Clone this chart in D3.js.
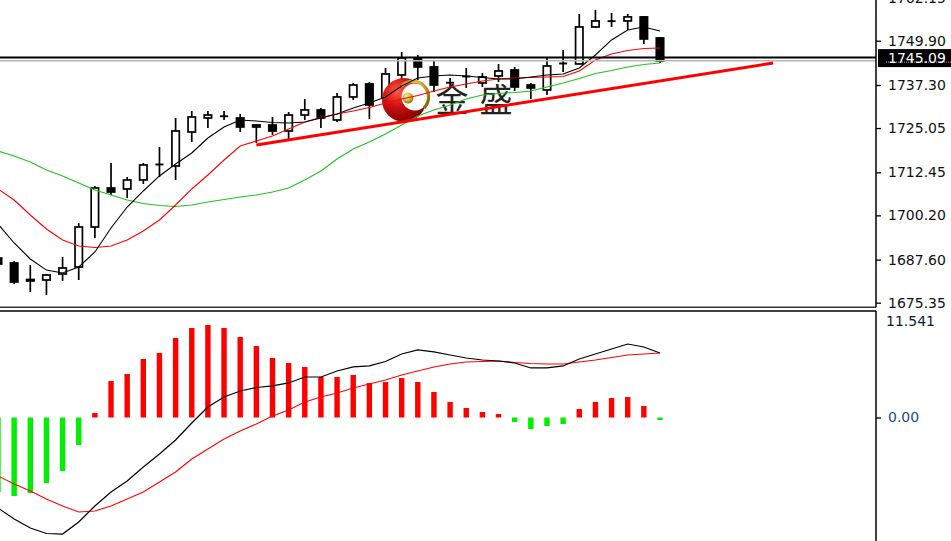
<!DOCTYPE html>
<html><head><meta charset="utf-8">
<script src="https://cdn.jsdelivr.net/npm/d3@7"></script>
<style>html,body{margin:0;padding:0;background:#fff;overflow:hidden}</style>
</head><body>
<svg id="c" width="951" height="541"></svg>
<script>
// ---------- DATA ----------
const opens  = [1688.07,1686.65,1681.95,1681.81,1683.52,1685.50,1696.89,1707.99,1707.71,1710.27,1714.54,1714.25,1723.92,1727.91,1728.34,1727.91,1725.92,1725.92,1724.21,1728.76,1730.19,1727.34,1733.89,1737.59,1733.60,1740.15,1744.99,1742.43,1738.01,1739.58,1737.87,1739.86,1741.57,1737.30,1735.88,1743.56,1743.28,1753.81,1755.52,1755.52,1756.67,1750.68];
const highs  = [1689.21,1687.22,1686.08,1683.52,1688.35,1698.03,1708.56,1715.11,1711.12,1715.11,1719.66,1727.91,1729.90,1729.90,1729.90,1729.05,1726.20,1728.19,1729.62,1733.32,1730.76,1735.03,1737.87,1738.16,1742.14,1746.69,1745.84,1744.13,1739.29,1742.14,1740.72,1743.28,1742.43,1737.87,1744.99,1747.26,1757.51,1758.65,1757.79,1757.51,1756.95,1750.96];
const lows   = [1685.22,1680.67,1678.39,1677.54,1681.52,1681.81,1693.76,1706.00,1705.14,1709.13,1711.12,1710.27,1721.08,1725.07,1727.34,1723.93,1720.80,1723.07,1721.65,1727.34,1725.07,1726.77,1733.03,1727.63,1732.18,1738.73,1738.73,1735.31,1736.45,1736.45,1736.73,1738.16,1735.59,1733.32,1734.45,1741.00,1743.28,1753.52,1753.81,1752.95,1748.97,1743.56];
const closes = [1686.36,1681.24,1681.52,1683.23,1685.22,1696.89,1707.99,1706.85,1710.27,1714.54,1714.82,1724.21,1728.19,1728.76,1728.48,1725.35,1725.35,1724.21,1728.76,1730.19,1727.91,1733.89,1737.30,1731.61,1740.43,1744.99,1742.43,1737.30,1737.87,1739.86,1739.58,1741.29,1736.73,1736.45,1742.71,1743.28,1753.81,1755.52,1755.40,1756.67,1750.39,1744.13];

const maFast = [1697.74,1692.34,1687.79,1684.63,1683.80,1685.51,1689.78,1696.60,1702.58,1707.14,1711.41,1714.82,1717.95,1722.22,1725.35,1727.34,1727.06,1726.63,1726.49,1726.77,1727.91,1729.05,1730.76,1732.18,1733.89,1737.02,1739.29,1739.86,1740.15,1739.86,1739.43,1739.01,1739.01,1739.58,1740.15,1740.43,1742.14,1745.84,1750.11,1752.95,1753.81,1752.67];
const maMid  = [1707.71,1704.58,1700.31,1696.32,1693.19,1691.49,1691.06,1691.49,1693.19,1695.75,1698.88,1703.15,1707.71,1711.69,1715.96,1719.94,1721.37,1722.79,1724.78,1726.77,1728.05,1729.05,1729.90,1730.90,1732.18,1733.32,1734.32,1735.59,1736.73,1737.59,1738.44,1739.01,1739.29,1739.43,1739.58,1739.72,1741.29,1744.42,1746.12,1747.12,1747.69,1747.83];
const maSlow = [1718.52,1717.10,1715.39,1713.11,1711.41,1709.41,1707.42,1706.00,1704.58,1703.58,1703.01,1702.73,1703.15,1704.00,1704.72,1705.43,1706.00,1706.85,1707.99,1710.27,1712.83,1716.24,1719.09,1721.08,1723.36,1725.92,1728.48,1730.19,1731.61,1733.32,1734.45,1734.88,1735.17,1735.59,1736.73,1737.87,1739.15,1740.57,1741.43,1742.43,1743.14,1743.56];

const macdHist = [-8.15,-8.59,-8.26,-7.17,-5.85,-3.01,0.49,3.99,4.76,6.40,7.06,8.70,9.79,10.12,9.79,8.81,7.82,6.51,5.96,5.53,4.43,4.43,4.65,3.77,3.88,4.32,3.88,2.79,1.70,1.04,0.60,0.38,-0.49,-1.26,-0.93,-0.71,0.93,1.70,2.13,2.24,1.26,-0.27];
const macdDif  = [-9.90,-11.11,-12.09,-12.69,-12.75,-11.43,-9.68,-8.15,-6.95,-5.42,-4.00,-2.46,-0.60,1.15,2.24,2.90,3.28,3.45,3.78,4.43,4.43,5.09,5.53,5.64,6.13,6.95,7.39,7.17,6.84,6.51,6.29,6.18,5.96,5.42,5.42,5.64,6.40,6.95,7.49,8.04,7.71,7.06];
const macdDea  = [-6.40,-7.28,-8.04,-8.92,-9.68,-10.34,-10.23,-9.68,-8.92,-8.15,-7.06,-5.96,-4.54,-3.45,-2.35,-1.48,-0.71,0.16,0.82,1.70,2.24,2.68,3.23,3.67,4.10,4.65,5.09,5.53,5.85,6.07,6.13,6.18,6.02,5.91,5.85,5.85,6.07,6.29,6.56,6.84,6.95,7.06];

const priceTicks = [1675.35,1687.60,1700.20,1712.45,1725.05,1737.30,1749.90,1762.15];
const macdTicks = [0];
const macdMaxLabel = 11.541;
const hLinePrice = 1745.09;
const bidPrice = 1744.22;
const trendPts = [{i:16,p:1720.23},{i:48,p:1743.56}];
const logoText = ["金","盛"];

// ---------- LAYOUT ----------
const axisX = 876, mainBottom = 307.3, subTop = 311, H = 541;
const svg = d3.select('#c');
const x  = d3.scaleLinear().domain([0,41]).range([-2,660]);
const y  = d3.scaleLinear().domain([1675.35,1749.90]).range([302.7,40.7]);
const ym = d3.scaleLinear().domain([0,macdMaxLabel]).range([417.5,312]);

const defs = svg.append('defs');
defs.append('clipPath').attr('id','cm').append('rect').attr('x',0).attr('y',0).attr('width',axisX).attr('height',mainBottom-1);
defs.append('clipPath').attr('id','cs').append('rect').attr('x',0).attr('y',subTop+1).attr('width',axisX).attr('height',H-subTop);
const rg = defs.append('radialGradient').attr('id','rg').attr('cx','35%').attr('cy','30%').attr('r','75%');
rg.append('stop').attr('offset','0%').attr('stop-color','#ff5a44');
rg.append('stop').attr('offset','45%').attr('stop-color','#d01010');
rg.append('stop').attr('offset','100%').attr('stop-color','#7a0000');
const gg = defs.append('radialGradient').attr('id','gg').attr('cx','40%').attr('cy','35%').attr('r','70%');
gg.append('stop').attr('offset','0%').attr('stop-color','#fff6b0');
gg.append('stop').attr('offset','55%').attr('stop-color','#d8b030');
gg.append('stop').attr('offset','100%').attr('stop-color','#8a6a10');

const idx = d3.range(opens.length);
const main = svg.append('g').attr('clip-path','url(#cm)');

// candles
const cg = main.append('g');
idx.forEach(i => {
  const cx = x(i);
  cg.append('line').attr('x1',cx).attr('x2',cx).attr('y1',y(highs[i])).attr('y2',y(lows[i]))
    .attr('stroke','#000').attr('stroke-width',1.7);
  const yo = y(opens[i]), yc = y(closes[i]);
  if (Math.abs(yo-yc) < 1.5) {
    cg.append('line').attr('x1',cx-4).attr('x2',cx+4).attr('y1',(yo+yc)/2).attr('y2',(yo+yc)/2)
      .attr('stroke','#000').attr('stroke-width',1.9);
  } else {
    const bull = closes[i] > opens[i];
    cg.append('rect').attr('x',cx-3.7).attr('width',7.4)
      .attr('y',Math.min(yo,yc)).attr('height',Math.abs(yo-yc))
      .attr('fill', bull ? '#fff' : '#000').attr('stroke','#000').attr('stroke-width',1.7);
  }
});

// logo watermark
const lg = main.append('g');
lg.append('circle').attr('cx',404).attr('cy',100).attr('r',22).attr('fill','url(#rg)');
lg.append('circle').attr('cx',415).attr('cy',97).attr('r',13.5).attr('fill','#fff');
lg.append('path').attr('d','M 402 86 A 14 14 0 0 1 424 108').attr('fill','none').attr('stroke','url(#gg)').attr('stroke-width',3.2);
lg.append('circle').attr('cx',408).attr('cy',98).attr('r',5.5).attr('fill','url(#gg)');
lg.selectAll('text.lt').data(logoText).join('text').attr('class','lt')
  .attr('x',(d,k)=>452+k*44).attr('y',111.5).attr('text-anchor','middle')
  .attr('font-family','"Noto Sans CJK SC"').attr('font-size',33).attr('font-weight',400)
  .attr('fill','#222').text(d=>d);

// moving averages
const line = d3.line().x((d,i)=>x(i)).y(d=>y(d));
main.append('path').datum(maSlow).attr('d',line).attr('fill','none').attr('stroke','#1fc21f').attr('stroke-width',1.1);
main.append('path').datum(maMid).attr('d',line).attr('fill','none').attr('stroke','#ff0000').attr('stroke-width',1.1);
main.append('path').datum(maFast).attr('d',line).attr('fill','none').attr('stroke','#000').attr('stroke-width',1.1);

// objects: trend line, horizontal line, bid line
main.append('line').attr('x1',0).attr('x2',axisX).attr('y1',y(bidPrice)).attr('y2',y(bidPrice))
  .attr('stroke','#b8b8b8').attr('stroke-width',1.5);
main.append('line').attr('x1',0).attr('x2',axisX).attr('y1',y(hLinePrice)).attr('y2',y(hLinePrice))
  .attr('stroke','#000').attr('stroke-width',2);
main.append('line').attr('x1',x(trendPts[0].i)).attr('y1',y(trendPts[0].p))
  .attr('x2',x(trendPts[1].i)).attr('y2',y(trendPts[1].p))
  .attr('stroke','#ff0000').attr('stroke-width',3);

// ---------- MACD ----------
const sub = svg.append('g').attr('clip-path','url(#cs)');
sub.selectAll('rect.h').data(macdHist).join('rect').attr('class','h')
  .attr('x',(d,i)=>x(i)-2.7).attr('width',5.4)
  .attr('y',d=>Math.min(ym(d),ym(0))).attr('height',d=>Math.max(1.5,Math.abs(ym(d)-ym(0))))
  .attr('fill',d=>d>=0?'#ff0000':'#00ee00');
const mline = d3.line().x((d,i)=>x(i)).y(d=>ym(d));
sub.append('path').datum(macdDea).attr('d',mline).attr('fill','none').attr('stroke','#ff0000').attr('stroke-width',1.1);
sub.append('path').datum(macdDif).attr('d',mline).attr('fill','none').attr('stroke','#000').attr('stroke-width',1.2);

// ---------- FRAMES & AXES ----------
svg.append('line').attr('x1',0).attr('x2',axisX).attr('y1',mainBottom).attr('y2',mainBottom).attr('stroke','#333').attr('stroke-width',1.5);
svg.append('line').attr('x1',0).attr('x2',axisX).attr('y1',subTop).attr('y2',subTop).attr('stroke','#000').attr('stroke-width',1.5);
svg.append('line').attr('x1',axisX).attr('x2',axisX).attr('y1',0).attr('y2',mainBottom).attr('stroke','#000').attr('stroke-width',1.5);
svg.append('line').attr('x1',axisX).attr('x2',axisX).attr('y1',subTop).attr('y2',H).attr('stroke','#000').attr('stroke-width',1.5);

const ax = svg.append('g').attr('transform',`translate(${axisX},0)`)
  .call(d3.axisRight(y).tickValues(priceTicks).tickFormat(d3.format('.2f')).tickSize(5).tickPadding(7));
ax.select('.domain').remove();
ax.attr('font-family','"DejaVu Sans"').attr('font-size',14);
ax.selectAll('line').attr('stroke','#000').attr('stroke-width',1.3);
ax.selectAll('text').attr('fill','#111');

// horizontal-line price label
const bx = svg.append('g');
bx.append('rect').attr('x',878).attr('y',y(hLinePrice)-8.5).attr('width',73).attr('height',18).attr('fill','#000');
bx.append('line').attr('x1',886).attr('x2',951).attr('y1',y(hLinePrice)+4.5).attr('y2',y(hLinePrice)+4.5)
  .attr('stroke','#aaa').attr('stroke-width',1).attr('stroke-dasharray','1,1');
bx.append('text').attr('x',888).attr('y',y(hLinePrice)).attr('dy','0.36em')
  .attr('font-family','"DejaVu Sans"').attr('font-size',14).attr('fill','#fff').text(d3.format('.2f')(hLinePrice));

const axm = svg.append('g').attr('transform',`translate(${axisX},0)`)
  .call(d3.axisRight(ym).tickValues(macdTicks).tickFormat(d3.format('.2f')).tickSize(5).tickPadding(7));
axm.select('.domain').remove();
axm.attr('font-family','"DejaVu Sans"').attr('font-size',14);
axm.selectAll('line').attr('stroke','#000').attr('stroke-width',1.3);
axm.selectAll('text').attr('fill','#1d4c86');
svg.append('text').attr('x',886).attr('y',ym(macdMaxLabel)+14)
  .attr('font-family','"DejaVu Sans"').attr('font-size',14).attr('fill','#0e1a33').text(d3.format('.3f')(macdMaxLabel));
</script>
</body></html>
